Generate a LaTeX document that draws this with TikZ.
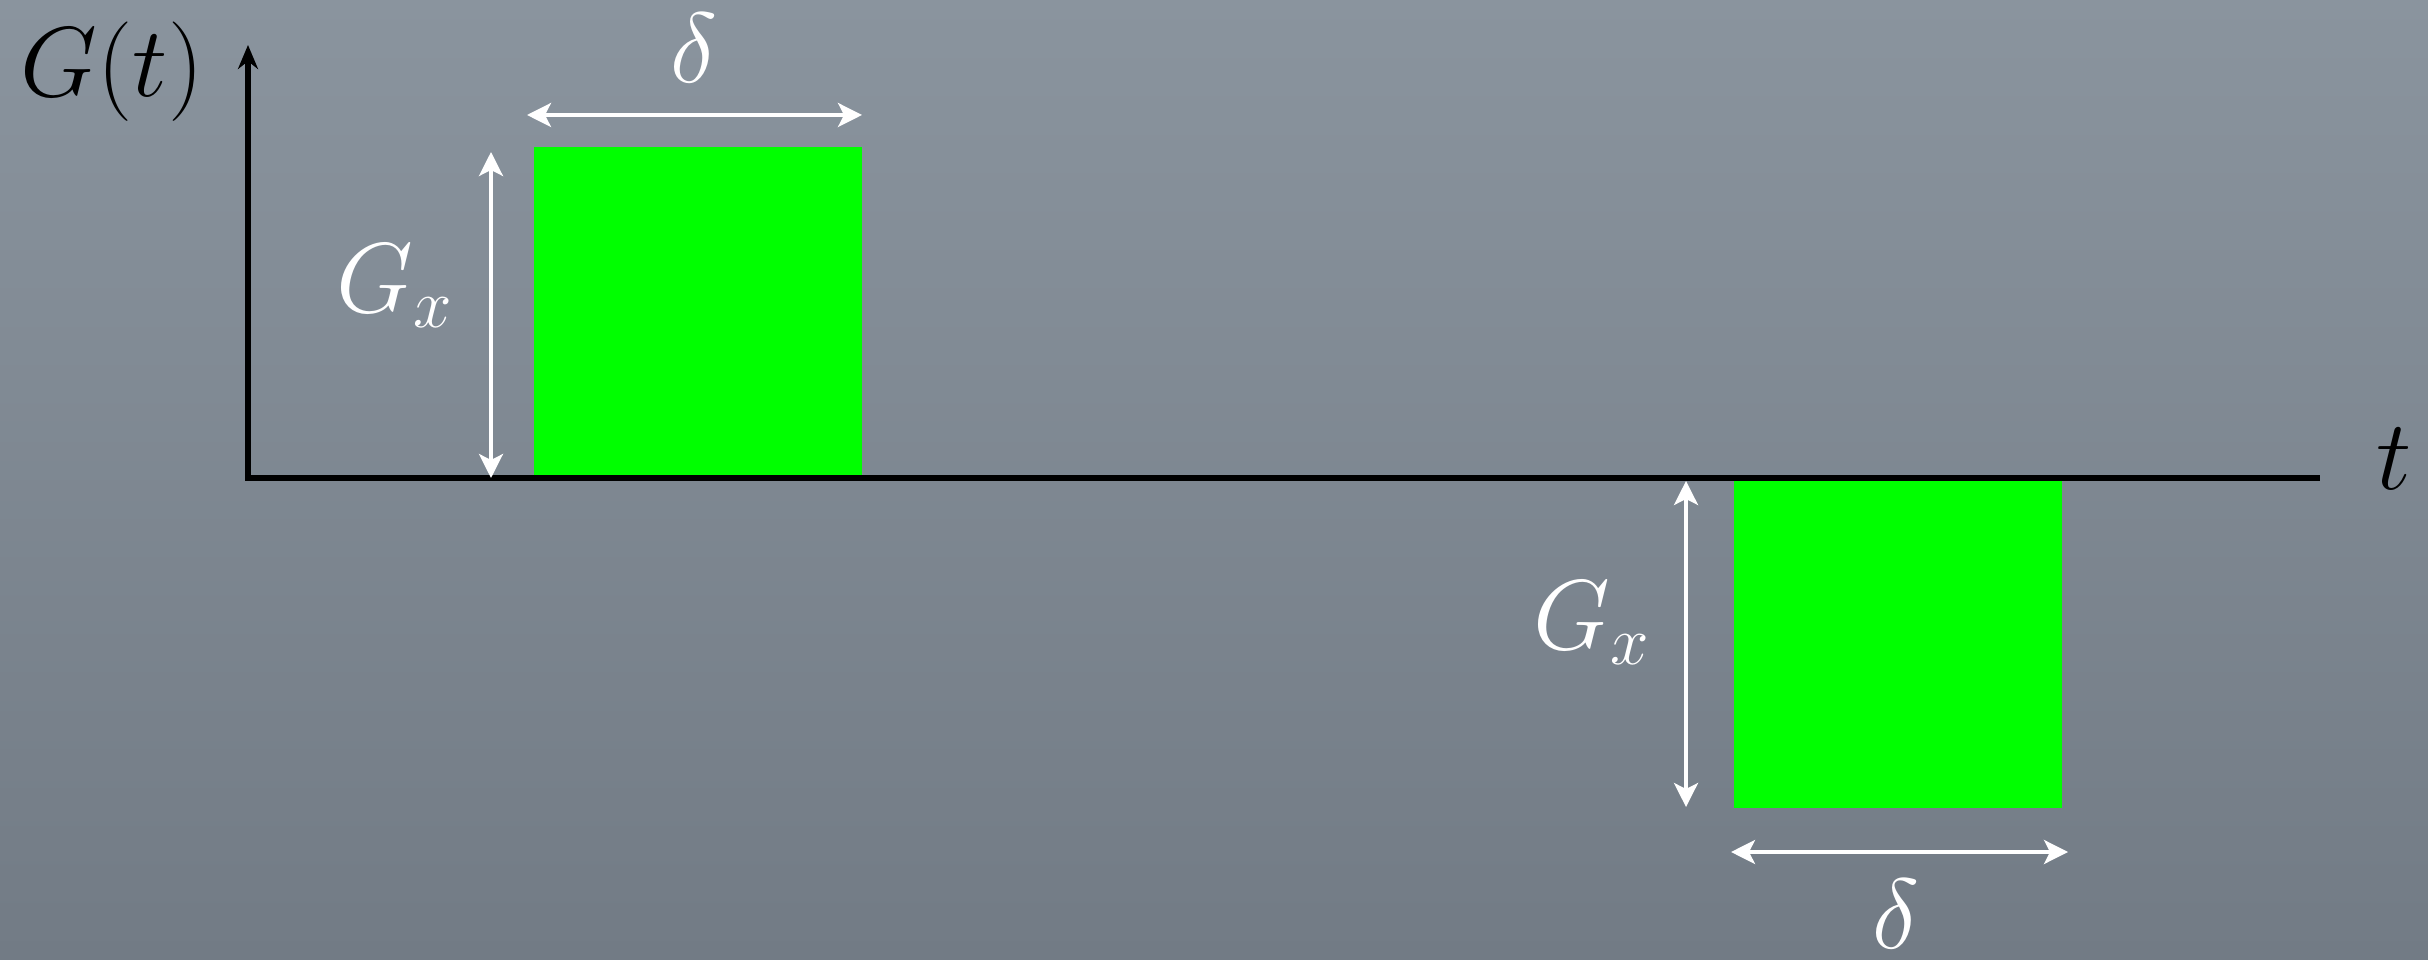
\documentclass[tikz,border=0pt]{standalone}
\usetikzlibrary{arrows.meta}
\definecolor{bgtop}{RGB}{138,148,158}
\definecolor{bgbot}{RGB}{114,123,133}
\definecolor{pulse}{RGB}{0,255,0}
\begin{document}
\begin{tikzpicture}[x=0.25pt,y=-0.25pt,
  lbl/.style={text=white,font=\fontsize{25}{30}\selectfont,inner sep=0pt},
  axlbl/.style={text=black,font=\fontsize{25}{30}\selectfont,inner sep=0pt},
  dimarrow/.style={white,line width=0.9pt,{Stealth[length=6pt,width=6pt,inset=1.5pt]}-{Stealth[length=6pt,width=6pt,inset=1.5pt]}},
  axisline/.style={black,line width=1.3pt}]
\shade[top color=bgtop,bottom color=bgbot] (0,0) rectangle (2428,960);
\useasboundingbox (0,0) rectangle (2428,960);
% pulses
\fill[pulse] (534,147) rectangle (862,476);
\fill[pulse] (1734,480) rectangle (2062,808);
% axes
\coordinate (O) at (248,478);
\coordinate (ytop) at (248,45);
\coordinate (xend) at (2320,478);
\draw[axisline] (O) -- (xend);
\draw[axisline,-{Stealth[length=6pt,width=5pt]}] ([yshift=-0.65pt]O) -- (ytop);
\node[axlbl,anchor=base west] (Gt) at (20,97) {$G(t)$};
\node[axlbl,anchor=base west] (tl) at (2376,490) {$t$};
% first pulse dimensions
\coordinate (v1a) at (491,152);
\coordinate (v1b) at (491,478);
\draw[dimarrow] (v1a) -- (v1b);
\coordinate (h1a) at (527,115);
\coordinate (h1b) at (862,115);
\draw[dimarrow] (h1a) -- (h1b);
\node[lbl,anchor=base] (d1) at (694,83) {$\delta$};
\node[lbl,anchor=base west] (g1) at (336,313) {$G_x$};
% second pulse dimensions
\coordinate (v2a) at (1686,481);
\coordinate (v2b) at (1686,807);
\draw[dimarrow] (v2a) -- (v2b);
\coordinate (h2a) at (1731,852);
\coordinate (h2b) at (2068,852);
\draw[dimarrow] (h2a) -- (h2b);
\node[lbl,anchor=base] (d2) at (1896,948) {$\delta$};
\node[lbl,anchor=base west] (g2) at (1533,650) {$G_x$};
\end{tikzpicture}
\end{document}
